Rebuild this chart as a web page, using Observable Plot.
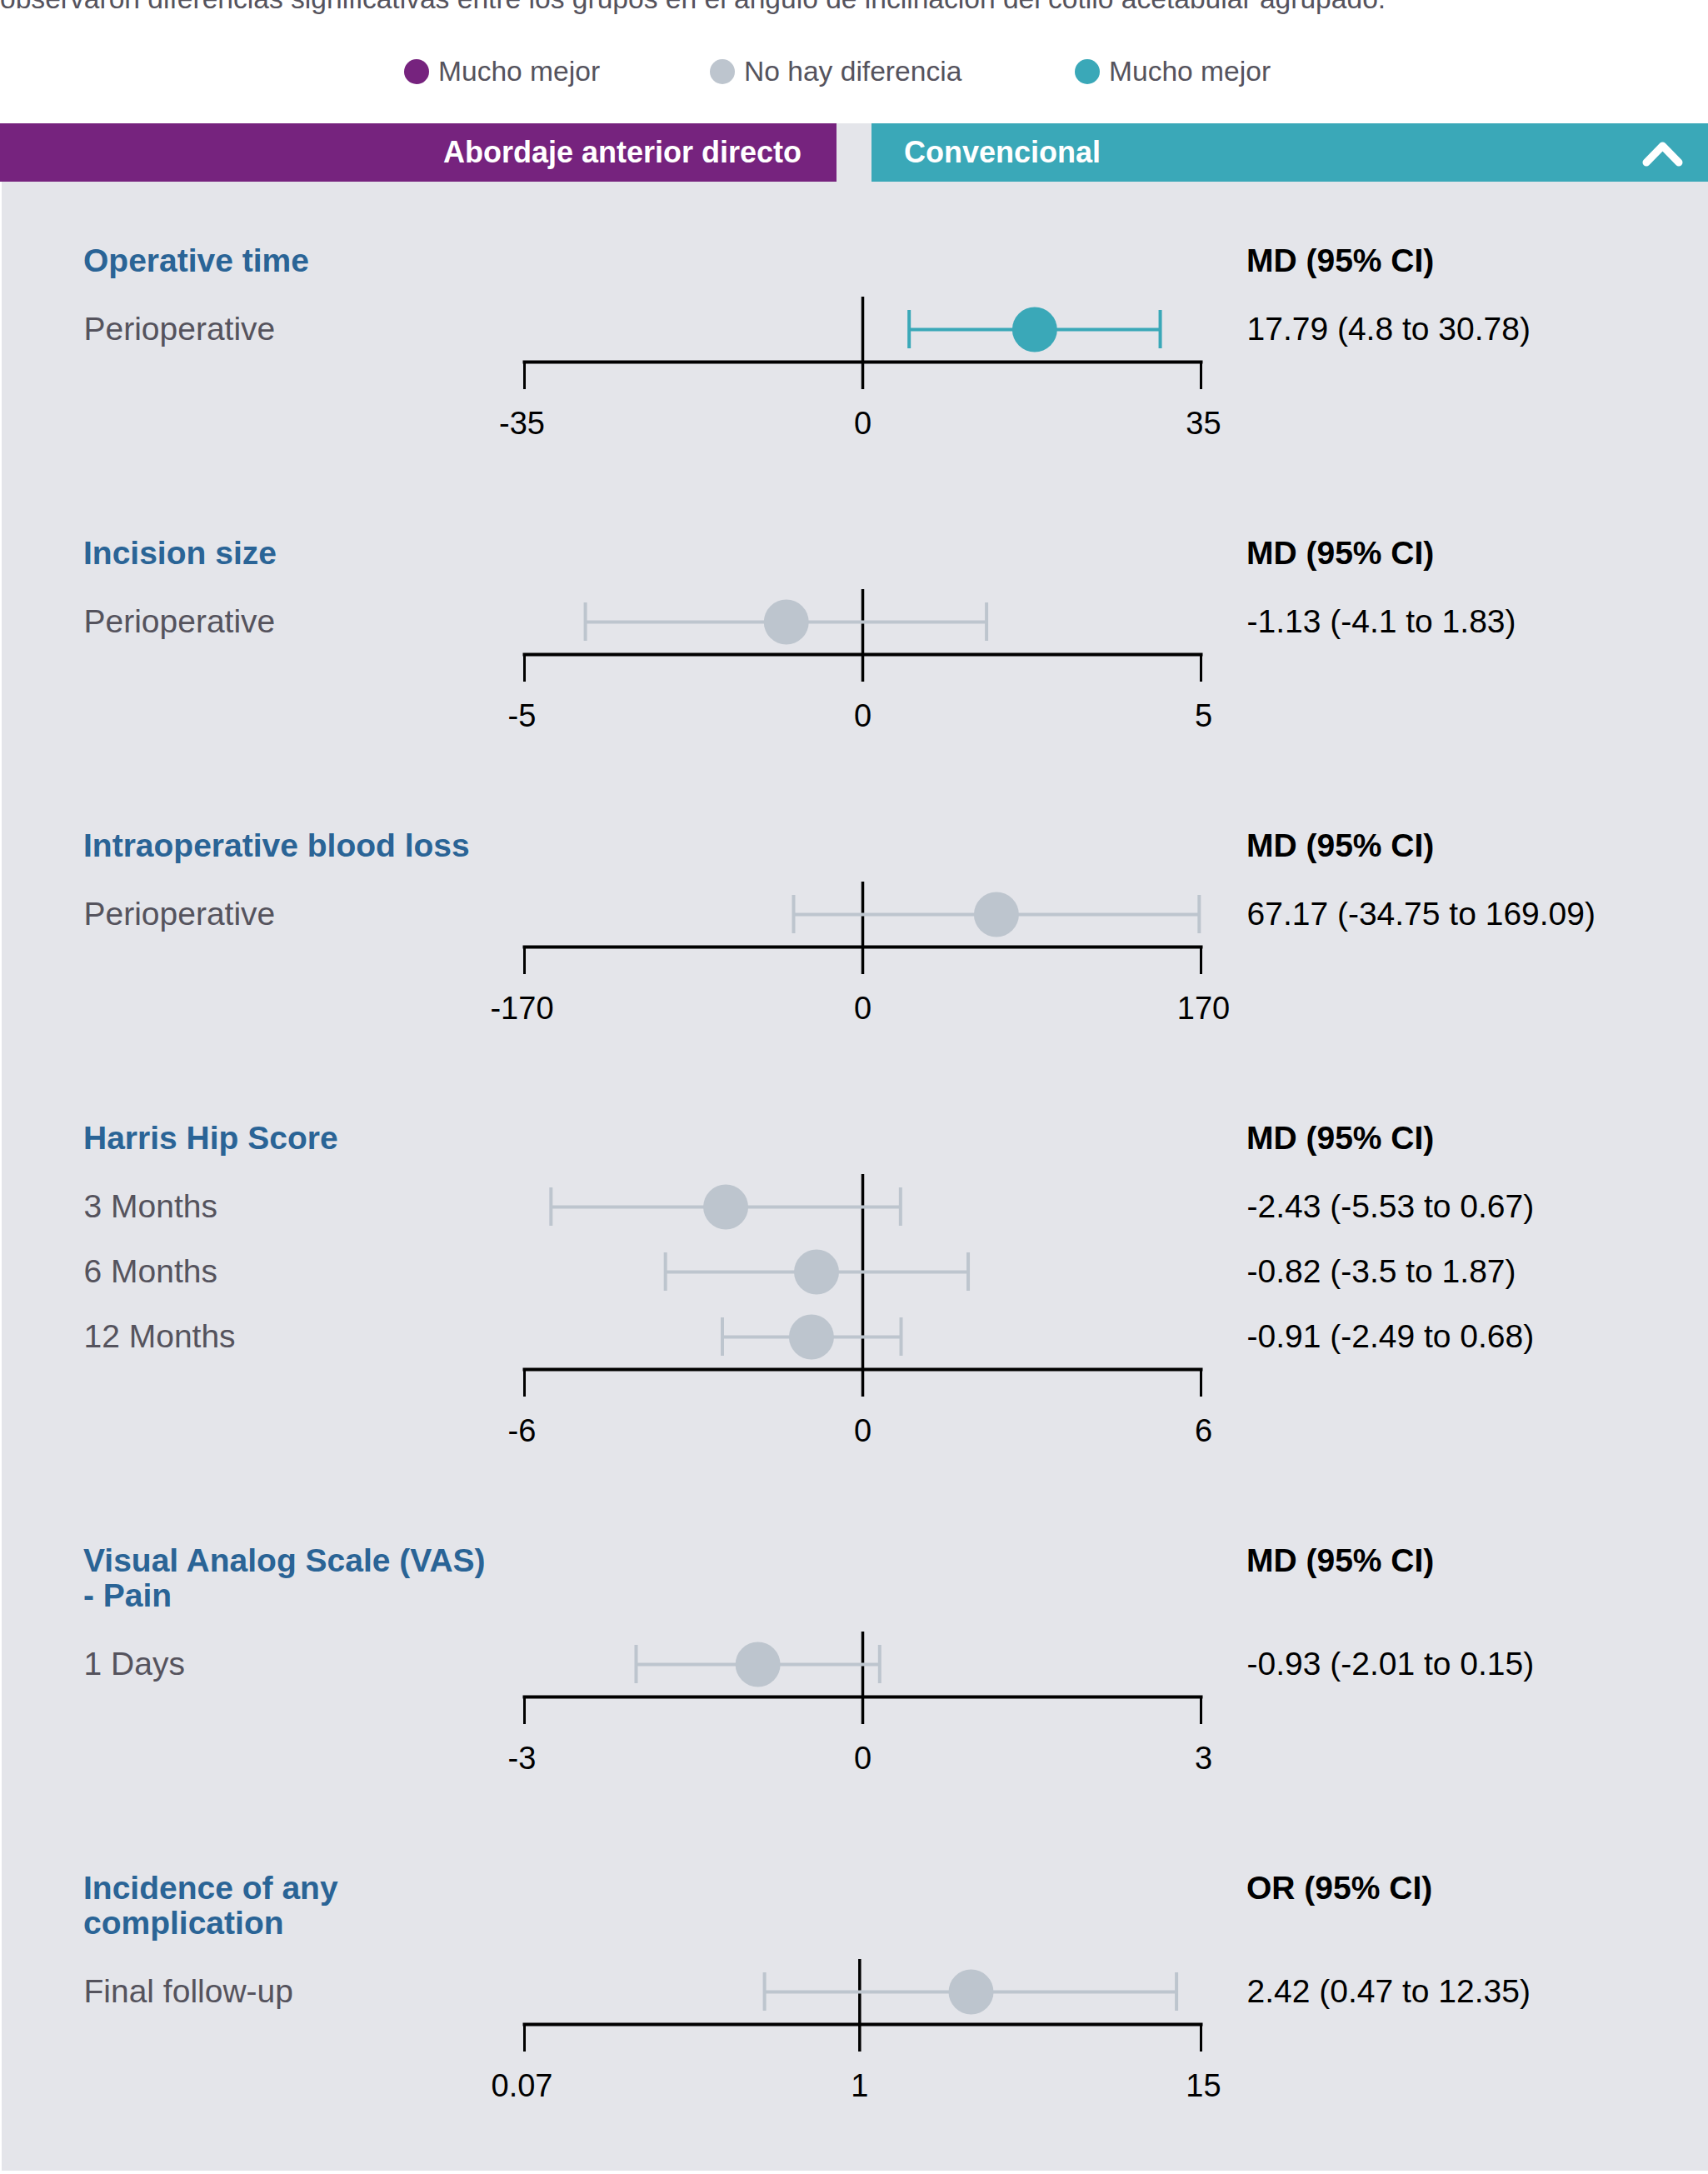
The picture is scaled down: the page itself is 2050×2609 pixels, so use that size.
<!DOCTYPE html>
<html>
<head>
<meta charset="utf-8">
<script src="https://cdn.jsdelivr.net/npm/d3@7"></script>
<script src="https://cdn.jsdelivr.net/npm/@observablehq/plot@0.6"></script>
<style>
  html, body { margin: 0; padding: 0; background: #fff; }
  body { width: 2050px; height: 2609px; position: relative; overflow: hidden;
         font-family: "Liberation Sans", Arial, Helvetica, sans-serif; }
  #intro { position: absolute; left: 0; top: -18px; font-size: 33.6px; line-height: 33px; color: #55535d; white-space: nowrap; }
  .li { position: absolute; top: 65px; height: 42px; display: flex; align-items: center; gap: 11px; font-size: 33.6px; color: #55535d; white-space: nowrap; }
  .sw { width: 30px; height: 30px; border-radius: 50%; }
  .bar { position: absolute; top: 148px; height: 70px; line-height: 70px; color: #fff; font-weight: bold; font-size: 36px; box-sizing: border-box; z-index: 2; }
  #panel { position: absolute; left: 2px; top: 148px; width: 2048px; height: 2457px; background: #e4e5ea; box-sizing: border-box; padding-top: 144px; }
  .section { position: relative; }
  .section + .section { margin-top: 109px; }
  .stitle { position: relative; font-size: 39px; line-height: 42px; font-weight: bold; margin-bottom: 22px; }
  .stitle .name { padding-left: 98px; color: #2a6496; white-space: pre-line; }
  .stitle .hdr { position: absolute; left: 1494px; top: 0; color: #000; }
  svg { display: block; }
</style>
</head>
<body>
<div id="intro"></div>
<div id="barL" class="bar"></div>
<div id="barR" class="bar"></div>
<div id="panel"></div>
<script>
// ---------- data ----------
const introText = "observaron diferencias significativas entre los grupos en el ángulo de inclinación del cotilo acetabular agrupado.";
const groupLeft = "Abordaje anterior directo";
const groupRight = "Convencional";
const legendKeys = ["daa", "nodiff", "conv"];
const legendLabels = ["Mucho mejor", "No hay diferencia", "Mucho mejor"];
const legendColors = ["#76237e", "#bdc5ce", "#3aa8b8"];

const sectionTitles = ["Operative time", "Incision size", "Intraoperative blood loss", "Harris Hip Score", "Visual Analog Scale (VAS)\n- Pain", "Incidence of any\ncomplication"];
const sectionMeasures = ["MD (95% CI)", "MD (95% CI)", "MD (95% CI)", "MD (95% CI)", "MD (95% CI)", "OR (95% CI)"];
const sectionScales = ["linear", "linear", "linear", "linear", "linear", "log"];
const sectionTicks = [[-35, 0, 35], [-5, 0, 5], [-170, 0, 170], [-6, 0, 6], [-3, 0, 3], [0.07, 1, 15]];
const sectionNull = [0, 0, 0, 0, 0, 1];

const rowSection = [0, 1, 2, 3, 3, 3, 4, 5];
const rowLabels = ["Perioperative", "Perioperative", "Perioperative", "3 Months", "6 Months", "12 Months", "1 Days", "Final follow-up"];
const rowEstimate = [17.79, -1.13, 67.17, -2.43, -0.82, -0.91, -0.93, 2.42];
const rowLower = [4.8, -4.1, -34.75, -5.53, -3.5, -2.49, -2.01, 0.47];
const rowUpper = [30.78, 1.83, 169.09, 0.67, 1.87, 0.68, 0.15, 12.35];
const rowEffect = ["conv", "nodiff", "nodiff", "nodiff", "nodiff", "nodiff", "nodiff", "nodiff"];

// ---------- header ----------
document.getElementById("intro").textContent = introText;
const legendLefts = [485, 852, 1290];
legendLabels.forEach((l, i) => {
  const it = document.createElement("div"); it.className = "li"; it.style.left = legendLefts[i] + "px";
  const sw = document.createElement("div"); sw.className = "sw"; sw.style.background = legendColors[i];
  const tx = document.createElement("span"); tx.textContent = l;
  it.appendChild(sw); it.appendChild(tx); document.body.appendChild(it);
});
const barL = document.getElementById("barL");
Object.assign(barL.style, {left: "0px", width: "1004px", background: legendColors[0], textAlign: "right", paddingRight: "42px"});
barL.textContent = groupLeft;
const barR = document.getElementById("barR");
Object.assign(barR.style, {left: "1046px", width: "1004px", background: legendColors[2], paddingLeft: "39px"});
barR.innerHTML = groupRight + '<svg width="60" height="40" style="position:absolute;left:924px;top:15px;overflow:visible"><polyline points="6,32 25.5,12 45,32" fill="none" stroke="#fff" stroke-width="9" stroke-linecap="round" stroke-linejoin="round"/></svg>';

// ---------- sections ----------
const rows = rowLabels.map((label, i) => ({
  section: rowSection[i], label, est: rowEstimate[i], lo: rowLower[i], hi: rowUpper[i], effect: rowEffect[i],
  value: `${rowEstimate[i]} (${rowLower[i]} to ${rowUpper[i]})`
}));

const panel = document.getElementById("panel");
const STEP = 78;
const FONT = "'Liberation Sans', Arial, sans-serif";
sectionTitles.forEach((title, s) => {
  const sec = document.createElement("div"); sec.className = "section";
  const st = document.createElement("div"); st.className = "stitle";
  const nm = document.createElement("div"); nm.className = "name"; nm.textContent = title;
  const hd = document.createElement("div"); hd.className = "hdr"; hd.textContent = sectionMeasures[s];
  st.appendChild(nm); st.appendChild(hd); sec.appendChild(st);

  const data = rows.filter(r => r.section === s);
  const ticks = sectionTicks[s];
  const ends = [ticks[0], ticks[ticks.length - 1]];
  const tickText = (vals, dx) => Plot.text(vals, {x: d => d, text: d => String(d), frameAnchor: "bottom", lineAnchor: "middle", dy: 74, dx, fontSize: 38, fill: "#000"});
  const chart = Plot.plot({
    width: 2048,
    height: data.length * STEP + 100,
    marginLeft: 627, marginRight: 609, marginTop: 0, marginBottom: 100,
    style: {background: "transparent", color: "#000", fontFamily: FONT, fontSize: "38px", overflow: "visible"},
    x: {type: sectionScales[s], domain: ends, axis: null},
    y: {type: "band", domain: data.map(d => d.label), padding: 0, axis: null},
    color: {domain: legendKeys, range: legendColors},
    marks: [
      Plot.ruleX([sectionNull[s]], {stroke: "#000", strokeWidth: 3.5, insetBottom: -33}),
      Plot.frame({anchor: "bottom", stroke: "#000", strokeWidth: 4}),
      Plot.axisX({ticks: ends, tickSize: 33, strokeWidth: 3, stroke: "#000", text: null}),
      tickText([ticks[0]], -3),
      tickText(ticks.slice(1, -1), 0),
      tickText([ticks[ticks.length - 1]], 3),
      Plot.ruleY(data, {y: "label", x1: "lo", x2: "hi", stroke: "effect", strokeWidth: 4}),
      Plot.tickX(data, {x: "lo", y: "label", stroke: "effect", strokeWidth: 4, insetTop: 16, insetBottom: 16}),
      Plot.tickX(data, {x: "hi", y: "label", stroke: "effect", strokeWidth: 4, insetTop: 16, insetBottom: 16}),
      Plot.dot(data, {x: "est", y: "label", r: 27, fill: "effect"}),
      Plot.text(data, {y: "label", text: "label", frameAnchor: "left", dx: -529, textAnchor: "start", fill: "#55535d", fontSize: 39}),
      Plot.text(data, {y: "label", text: "value", frameAnchor: "right", dx: 55, textAnchor: "start", fill: "#000", fontSize: 39})
    ]
  });
  sec.appendChild(chart);
  panel.appendChild(sec);
});
</script>
</body>
</html>
